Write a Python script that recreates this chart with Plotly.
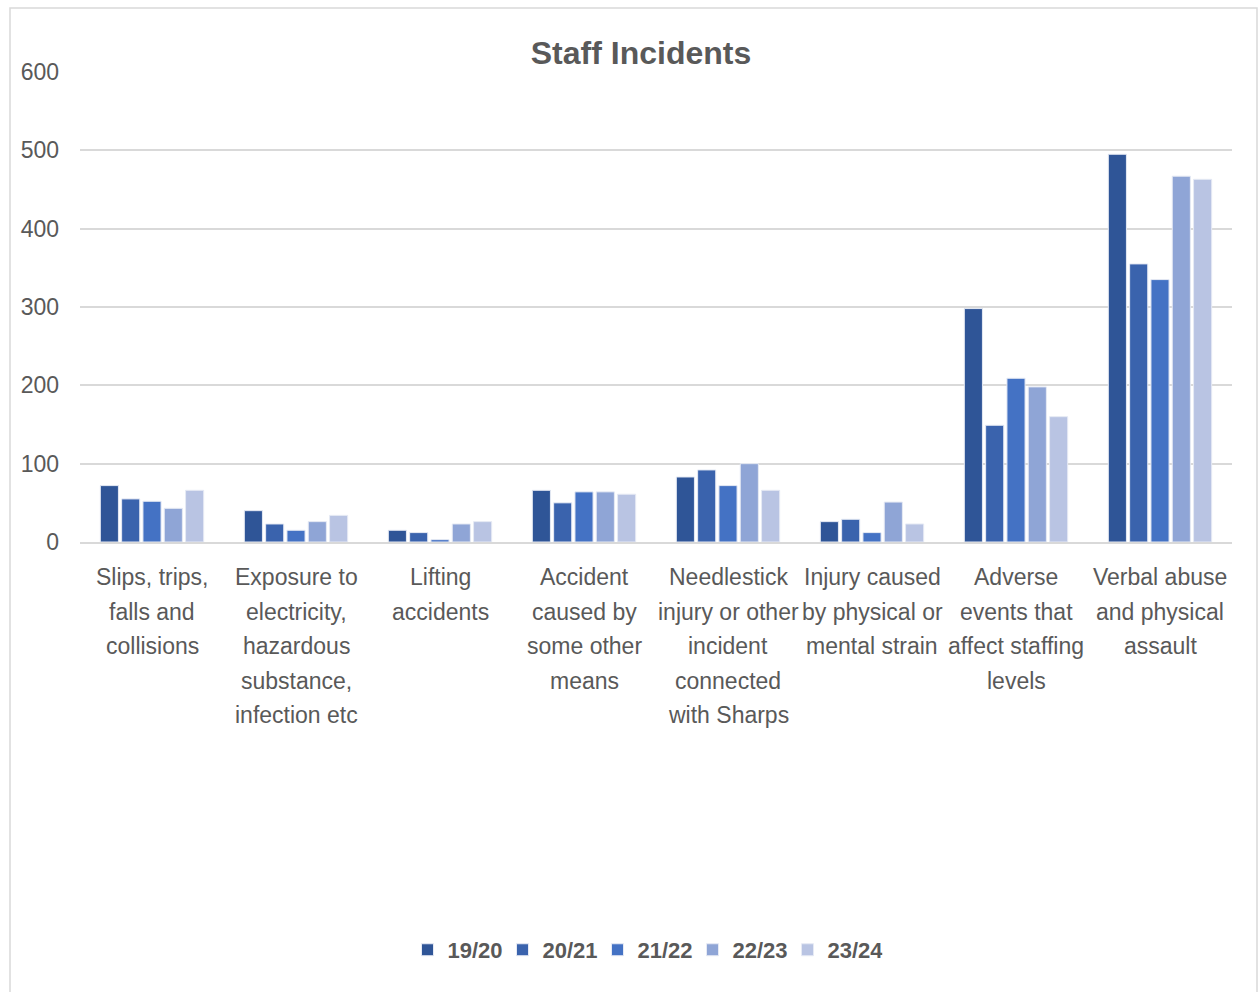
import plotly.graph_objects as go

category_lines = [
    ["Slips, trips,", "falls and", "collisions"],
    ["Exposure to", "electricity,", "hazardous", "substance,", "infection etc"],
    ["Lifting", "accidents"],
    ["Accident", "caused by", "some other", "means"],
    ["Needlestick", "injury or other", "incident", "connected", "with Sharps"],
    ["Injury caused", "by physical or", "mental strain"],
    ["Adverse", "events that", "affect staffing", "levels"],
    ["Verbal abuse", "and physical", "assault"],
]
categories = [" ".join(lines) for lines in category_lines]
series_names = ["19/20", "20/21", "21/22", "22/23", "23/24"]
v_1920 = [72, 40, 15, 66, 83, 26, 298, 495]
v_2021 = [55, 23, 12, 50, 92, 29, 149, 355]
v_2122 = [52, 15, 3, 64, 72, 12, 209, 335]
v_2223 = [43, 26, 23, 64, 100, 51, 198, 467]
v_2324 = [66, 34, 26, 61, 66, 23, 160, 463]
values = [v_1920, v_2021, v_2122, v_2223, v_2324]
colors = ["#2F5597", "#3A63AD", "#4472C4", "#8FA5D6", "#B9C4E3"]

FONT = "Liberation Sans Narrow, Arial Narrow, Liberation Sans, sans-serif"
GRAY = "#595959"

fig = go.Figure()
for name, vals, col in zip(series_names, values, colors):
    fig.add_trace(go.Bar(
        name=name, x=categories, y=vals,
        marker=dict(color=col, line=dict(color="#E6EAF4", width=1)),
    ))

# Category labels, one line per annotation to reproduce the taller line spacing
annotations = []
for cat, lines in zip(categories, category_lines):
    for i, line in enumerate(lines):
        annotations.append(dict(
            x=cat, xref="x", y=0, yref="paper", text=line, showarrow=False,
            xanchor="center", yanchor="middle", yshift=-(35 + 34.5 * i),
            font=dict(family=FONT, size=23, color=GRAY),
        ))

fig.update_layout(
    width=1258, height=992,
    margin=dict(l=80, r=26, t=72, b=450),
    paper_bgcolor="white", plot_bgcolor="white",
    barmode="group", bargap=0.26, bargroupgap=0.15,
    font=dict(family=FONT, color=GRAY, size=22),
    title=dict(text="<b>Staff Incidents</b>", x=(641 - 80) / 1152, xref="paper",
               xanchor="center", y=1 - 53 / 992, yanchor="middle",
               font=dict(family=FONT, size=32, color=GRAY)),
    showlegend=True,
    legend=dict(orientation="h", x=(645 - 80) / 1152, xanchor="center", y=-0.868, yanchor="middle",
                font=dict(family=FONT, size=22, color=GRAY, weight="bold"),
                itemwidth=30, entrywidth=50, tracegroupgap=0),
    xaxis=dict(showgrid=False, showline=True, linecolor="#D9D9D9", linewidth=2,
               ticks="", showticklabels=False, automargin=False),
    yaxis=dict(range=[0, 600], dtick=100, showgrid=True, gridcolor="#D9D9D9", gridwidth=2,
               zeroline=False, ticks="", tickfont=dict(family=FONT, size=23, color=GRAY),
               ticklabelstandoff=20, automargin=False),
    annotations=annotations,
    shapes=[dict(type="rect", xref="paper", yref="paper",
                 x0=(10 - 80) / 1152, x1=(1257 - 80) / 1152,
                 y0=(542 - 1100) / 470, y1=(542 - 8) / 470,
                 line=dict(color="#D9D9D9", width=1.5), layer="below")],
)

fig.write_html("out.html")
